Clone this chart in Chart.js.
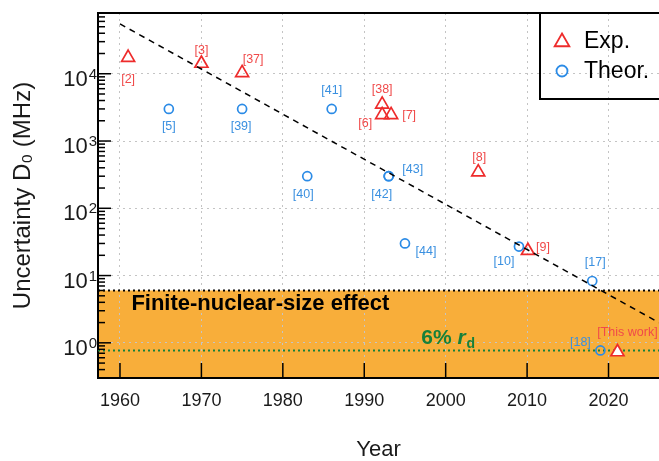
<!DOCTYPE html>
<html>
<head>
<meta charset="utf-8">
<script src="https://cdn.jsdelivr.net/npm/chart.js@4.4.1/dist/chart.umd.min.js"></script>
<style>
html, body { margin: 0; padding: 0; background: #fff; }
#wrap { width: 659px; height: 461px; }
</style>
</head>
<body>
<div id="wrap"><canvas id="chart" width="659" height="461"></canvas></div>
<script>
// values
const expYears  = [1961, 1970, 1975, 1992.2, 1992.2, 1993.3, 2004, 2010.1, 2021.1];
const expValues = [17400, 14200, 10300, 3500, 2450, 2450, 345, 23.4, 0.73];
const expRefs   = ['[2]', '[3]', '[37]', '[38]', '[6]', '[7]', '[8]', '[9]', '[This work]'];

const theorYears  = [1966, 1975, 1983, 1986, 1993, 1993, 1995, 2009, 2018, 2019];
const theorValues = [3000, 3000, 300, 3000, 300, 300, 30, 27, 8.3, 0.77];
const theorRefs   = ['[5]', '[39]', '[40]', '[41]', '[42]', '[43]', '[44]', '[10]', '[17]', '[18]'];

const trendYears  = [1960, 2026.2];
const trendValues = [55000, 2.0];

const finiteSizeLimit = 6;    // MHz, top of shaded band
const rdLimit = 0.77;         // MHz, 6% r_d line

const xTicks = [1960, 1970, 1980, 1990, 2000, 2010, 2020];
const yTicks = [1, 10, 100, 1000, 10000];
const yExponents = ['0', '1', '2', '3', '4'];

// label placement (pixel offsets from the marker)
const labelOffsets = {
    '[2]': [0, 22], '[3]': [0, -13], '[37]': [11, -13], '[38]': [0, -15],
    '[6]': [-17, 9], '[7]': [18, 1], '[8]': [1, -15], '[9]': [15, -3],
    '[This work]': [10, -19],
    '[5]': [0, 18], '[39]': [-1, 18], '[40]': [-4, 18], '[41]': [0, -18],
    '[42]': [-7, 18], '[43]': [24, -7], '[44]': [21, 8], '[10]': [-15, 15],
    '[17]': [3, -18], '[18]': [-20, -8]
};

const RED = '#ee2b2b', RED_TXT = '#f04a4a';
const BLUE = '#2b8be6', BLUE_TXT = '#3a90e0';
const ORANGE = '#f8ae3a', GREEN = '#17803a';
const FONT = '"Liberation Sans", Arial, sans-serif';

const toPts = (xs, ys) => xs.map((x, i) => ({ x: x, y: ys[i] }));

const decorPlugin = {
    id: 'decor',
    beforeDraw(chart) {
        const { ctx, chartArea: a, scales: { y } } = chart;
        ctx.save();
        const top = y.getPixelForValue(finiteSizeLimit);
        ctx.fillStyle = ORANGE;
        ctx.fillRect(a.left, top, a.right - a.left, a.bottom - top);
        ctx.restore();
    },
    beforeDatasetsDraw(chart) {
        const { ctx, chartArea: a, scales: { x, y } } = chart;
        ctx.save();
        ctx.lineWidth = 2;
        ctx.setLineDash([2, 3]);
        let py = y.getPixelForValue(finiteSizeLimit);
        ctx.strokeStyle = '#000';
        ctx.beginPath(); ctx.moveTo(a.left, py); ctx.lineTo(a.right, py); ctx.stroke();
        py = y.getPixelForValue(rdLimit);
        ctx.strokeStyle = GREEN;
        ctx.beginPath(); ctx.moveTo(a.left, py); ctx.lineTo(a.right, py); ctx.stroke();
        ctx.setLineDash([]);

        // inward ticks
        ctx.strokeStyle = '#000';
        ctx.lineWidth = 1.5;
        for (let e = -1; e <= 5; e++) {
            for (let k = 1; k <= 9; k++) {
                const v = k * Math.pow(10, e);
                if (v < y.min || v > y.max) continue;
                const p = y.getPixelForValue(v);
                const len = k === 1 ? 13 : 7;
                ctx.beginPath(); ctx.moveTo(a.left, p); ctx.lineTo(a.left + len, p); ctx.stroke();
            }
        }
        xTicks.forEach(v => {
            const p = x.getPixelForValue(v);
            ctx.beginPath(); ctx.moveTo(p, a.bottom); ctx.lineTo(p, a.bottom - 15); ctx.stroke();
        });
        // top frame
        ctx.lineWidth = 2;
        ctx.beginPath(); ctx.moveTo(a.left, a.top); ctx.lineTo(a.right, a.top); ctx.stroke();

        // band texts
        ctx.fillStyle = '#000';
        ctx.font = 'bold 22px ' + FONT;
        ctx.textBaseline = 'alphabetic';
        ctx.fillText('Finite-nuclear-size effect', x.getPixelForValue(1961.4), y.getPixelForValue(3.05));
        let tx = x.getPixelForValue(1997.0);
        const ty = y.getPixelForValue(0.96);
        ctx.font = 'bold 21px ' + FONT;
        ctx.fillStyle = GREEN;
        ctx.fillText('6% ', tx, ty);
        tx += ctx.measureText('6% ').width;
        ctx.font = 'italic bold 21px ' + FONT;
        ctx.fillText('r', tx, ty);
        tx += ctx.measureText('r').width + 1;
        ctx.font = 'bold 14px ' + FONT;
        ctx.fillText('d', tx, ty + 4);
        ctx.restore();
    },
    afterDatasetsDraw(chart) {
        const { ctx } = chart;
        ctx.save();
        ctx.font = '12.5px ' + FONT;
        ctx.textAlign = 'center';
        ctx.textBaseline = 'middle';
        chart.data.datasets.forEach((ds, di) => {
            if (!ds.refs) return;
            const meta = chart.getDatasetMeta(di);
            ctx.fillStyle = ds.labelColor;
            meta.data.forEach((pt, i) => {
                const off = labelOffsets[ds.refs[i]] || [0, 0];
                ctx.fillText(ds.refs[i], pt.x + off[0], pt.y + off[1]);
            });
        });
        ctx.restore();
    },
    afterDraw(chart) {
        const { ctx, chartArea: a, scales: { y } } = chart;
        ctx.save();
        // y tick labels with superscripts
        ctx.fillStyle = '#1a1a1a';
        ctx.textAlign = 'right';
        ctx.textBaseline = 'alphabetic';
        yTicks.forEach((v, i) => {
            const p = y.getPixelForValue(v);
            const right = a.left - 1;
            ctx.font = '15px ' + FONT;
            const w = ctx.measureText(yExponents[i]).width;
            ctx.fillText(yExponents[i], right, p + 5);
            ctx.font = '22px ' + FONT;
            ctx.fillText('10', right - w - 1, p + 12);
        });

        // legend (no fill, grid shows through)
        const lx = 540, ly = a.top, lh = 86;
        ctx.strokeStyle = '#000';
        ctx.lineWidth = 2;
        ctx.beginPath();
        ctx.moveTo(lx, ly); ctx.lineTo(lx, ly + lh); ctx.lineTo(a.right + 2, ly + lh);
        ctx.stroke();
        ctx.lineWidth = 1.8;
        ctx.strokeStyle = RED;
        const r = 8.5;
        ctx.beginPath();
        ctx.moveTo(562, 42 - r);
        ctx.lineTo(562 + r * 0.866, 42 + r * 0.5);
        ctx.lineTo(562 - r * 0.866, 42 + r * 0.5);
        ctx.closePath(); ctx.stroke();
        ctx.strokeStyle = BLUE;
        ctx.beginPath(); ctx.arc(562, 71, 5.5, 0, Math.PI * 2); ctx.stroke();
        ctx.fillStyle = '#000';
        ctx.textAlign = 'left';
        ctx.textBaseline = 'middle';
        ctx.font = '23px ' + FONT;
        ctx.fillText('Exp.', 584, 42);
        ctx.fillText('Theor.', 584, 72);
        ctx.restore();
    }
};

new Chart(document.getElementById('chart'), {
    type: 'scatter',
    data: {
        datasets: [
            {
                type: 'line',
                data: toPts(trendYears, trendValues),
                borderColor: '#000',
                borderWidth: 1.5,
                borderDash: [6, 5],
                pointRadius: 0,
                fill: false
            },
            {
                label: 'Theor.',
                data: toPts(theorYears, theorValues),
                refs: theorRefs,
                labelColor: BLUE_TXT,
                pointStyle: 'circle',
                pointRadius: 4.5,
                borderColor: BLUE,
                backgroundColor: 'rgba(0,0,0,0)',
                borderWidth: 1.7
            },
            {
                label: 'Exp.',
                data: toPts(expYears, expValues),
                refs: expRefs,
                labelColor: RED_TXT,
                pointStyle: 'triangle',
                pointRadius: 7.5,
                borderColor: RED,
                backgroundColor: expRefs.map(r => r === '[This work]' ? '#fff' : 'rgba(0,0,0,0)'),
                borderWidth: 1.7
            }
        ]
    },
    options: {
        responsive: false,
        animation: false,
        layout: { autoPadding: false, padding: { top: 13, right: 0, bottom: 0, left: 0 } },
        plugins: { legend: { display: false }, tooltip: { enabled: false } },
        scales: {
            x: {
                type: 'linear',
                min: 1957.3,
                max: 2026.2,
                afterBuildTicks: s => { s.ticks = xTicks.map(v => ({ value: v })); },
                afterFit: s => { s.height = 83; },
                grid: { color: '#c4c4c4', lineWidth: 1, drawTicks: false },
                border: { display: true, color: '#000', width: 2, dash: [2, 4] },
                ticks: {
                    padding: 12,
                    color: '#1a1a1a',
                    font: { family: FONT, size: 18 },
                    callback: v => String(v)
                },
                title: {
                    display: true,
                    text: 'Year',
                    color: '#1a1a1a',
                    font: { family: FONT, size: 22, lineHeight: 1 },
                    padding: { top: 0, bottom: 0 }
                }
            },
            y: {
                type: 'logarithmic',
                min: 0.31,
                max: 80000,
                afterBuildTicks: s => { s.ticks = yTicks.map(v => ({ value: v })); },
                afterFit: s => { s.width = 98; },
                grid: { color: '#c4c4c4', lineWidth: 1, drawTicks: false },
                border: { display: true, color: '#000', width: 2, dash: [2, 4] },
                ticks: { display: false },
                title: {
                    display: true,
                    text: 'Uncertainty D₀ (MHz)',
                    color: '#1a1a1a',
                    font: { family: FONT, size: 24, lineHeight: 1 },
                    padding: { top: 11, bottom: 0 }
                }
            }
        }
    },
    plugins: [decorPlugin]
});
</script>
</body>
</html>
